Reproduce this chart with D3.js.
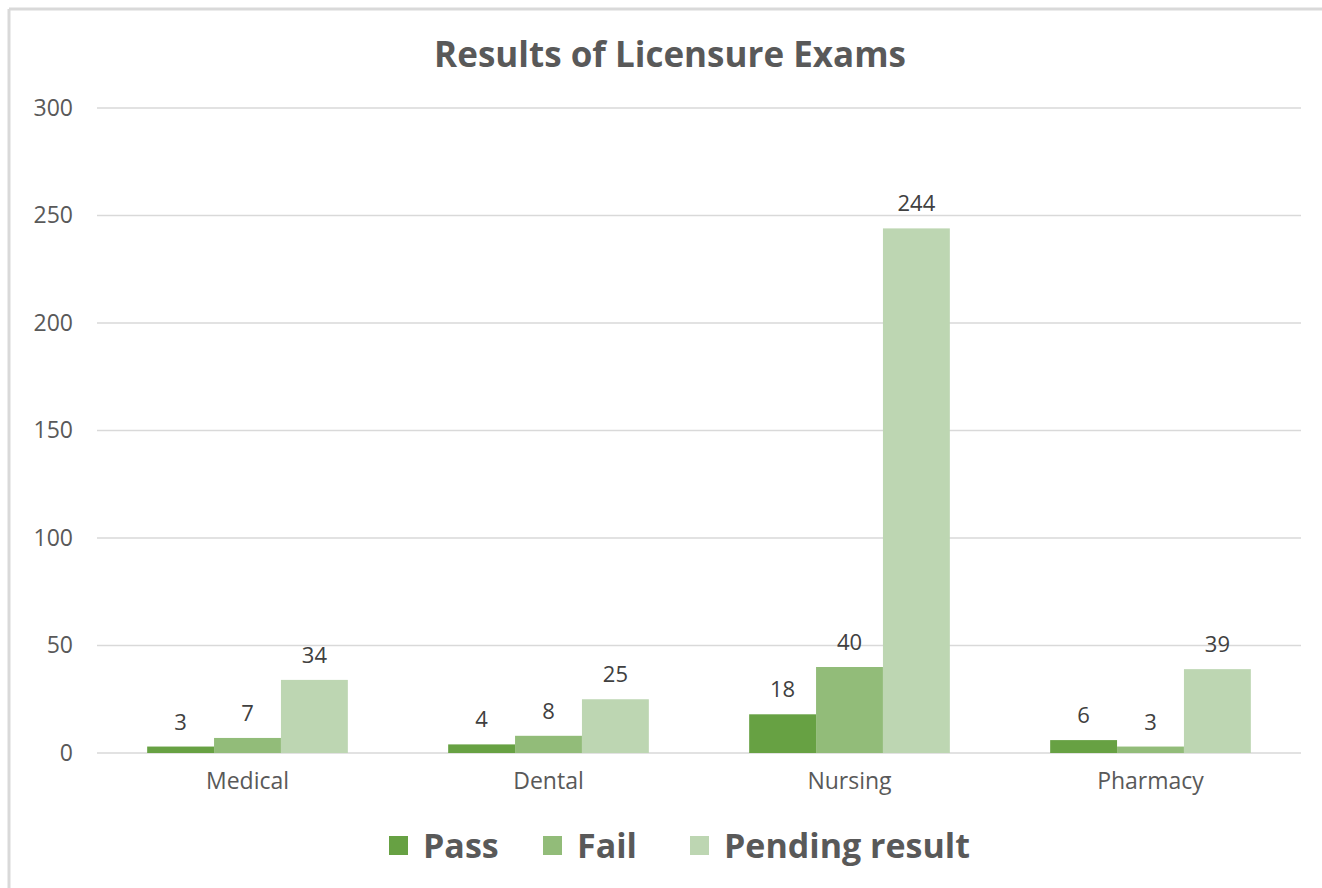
<!DOCTYPE html>
<html>
  <head>
    <meta charset="utf-8">
    <title>Results of Licensure Exams</title>
  </head>
  <body style="margin:0;background:#fff;overflow:hidden;">
  <style media="screen">
    svg { display:block; }
    .tick text { font-family:"Open Sans", sans-serif; font-size:23px; fill:#595959; }
    .grid line { stroke:#d9d9d9; stroke-width:1.3; }
    .lbl { font-family:"Open Sans", sans-serif; font-size:22px; fill:#404040; }
    .title { font-family:"Open Sans", sans-serif; font-weight:bold; font-size:35px; fill:#595959; }
    .legend text { font-family:"Open Sans", sans-serif; font-weight:bold; font-size:34px; fill:#595959; }
  </style>

<svg id="chart" width="1322" height="888"></svg>

    <script src="https://d3js.org/d3.v7.min.js"></script>
    <script type="text/javascript">
    var categories = ['Medical', 'Dental', 'Nursing', 'Pharmacy'];
    var seriesNames = ['Pass', 'Fail', 'Pending result'];
    var pass = [3, 4, 18, 6];
    var fail = [7, 8, 40, 3];
    var pending = [34, 25, 244, 39];
    var yTicks = [0, 50, 100, 150, 200, 250, 300];
    var colors = ['#67a143', '#92bc79', '#bdd6b2'];

    var series = [pass, fail, pending];

    var svg = d3.select('#chart');

    // chart frame (only top & left edges are visible in the picture)
    svg.append('line').attr('x1', 9).attr('x2', 1322).attr('y1', 9).attr('y2', 9)
      .attr('stroke', '#d9d9d9').attr('stroke-width', 3);
    svg.append('line').attr('x1', 9).attr('x2', 9).attr('y1', 9).attr('y2', 888)
      .attr('stroke', '#d9d9d9').attr('stroke-width', 3);

    var plotL = 97, plotR = 1301, plotT = 108, plotB = 753;

    var x = d3.scaleBand().domain(categories).range([plotL, plotR]).paddingInner(0).paddingOuter(0);
    var xs = d3.scaleBand().domain(seriesNames).range([0, x.bandwidth()]).paddingOuter(0.75).paddingInner(0);
    var y = d3.scaleLinear().domain([0, 300]).range([plotB, plotT]);

    // gridlines
    svg.append('g').attr('class', 'grid')
      .selectAll('line').data(yTicks).enter().append('line')
      .attr('x1', plotL).attr('x2', plotR)
      .attr('y1', d => y(d)).attr('y2', d => y(d));

    var yAxis = svg.append('g')
      .attr('transform', 'translate(' + (plotL - 24) + ',0)')
      .call(d3.axisLeft(y).tickValues(yTicks).tickSize(0).tickPadding(0));
    yAxis.select('.domain').remove();

    var xAxis = svg.append('g')
      .attr('transform', 'translate(0,' + plotB + ')')
      .call(d3.axisBottom(x).tickSize(0).tickPadding(20));
    xAxis.select('.domain').remove();

    // bars
    var groups = svg.selectAll('g.cat').data(categories).enter().append('g')
      .attr('class', 'cat')
      .attr('transform', d => 'translate(' + x(d) + ',0)');

    seriesNames.forEach(function(name, si){
      groups.append('rect')
        .attr('x', xs(name))
        .attr('width', xs.bandwidth())
        .attr('y', (d, i) => y(series[si][i]))
        .attr('height', (d, i) => y(0) - y(series[si][i]))
        .attr('fill', colors[si]);

      groups.append('text')
        .attr('class', 'lbl')
        .attr('text-anchor', 'middle')
        .attr('x', xs(name) + xs.bandwidth() / 2)
        .attr('y', (d, i) => y(series[si][i]) - 17)
        .text((d, i) => series[si][i]);
    });

    svg.append('text').attr('class', 'title')
      .attr('x', 670).attr('y', 67).attr('text-anchor', 'middle')
      .text('Results of Licensure Exams');

    // legend
    var legendX = [389, 543, 690];
    var legend = svg.append('g').attr('class', 'legend');
    seriesNames.forEach(function(name, i){
      legend.append('rect')
        .attr('x', legendX[i]).attr('y', 836)
        .attr('width', 19).attr('height', 19)
        .attr('fill', colors[i]);
      legend.append('text')
        .attr('x', legendX[i] + 34).attr('y', 858)
        .text(name);
    });
    </script>
  </body>
</html>
